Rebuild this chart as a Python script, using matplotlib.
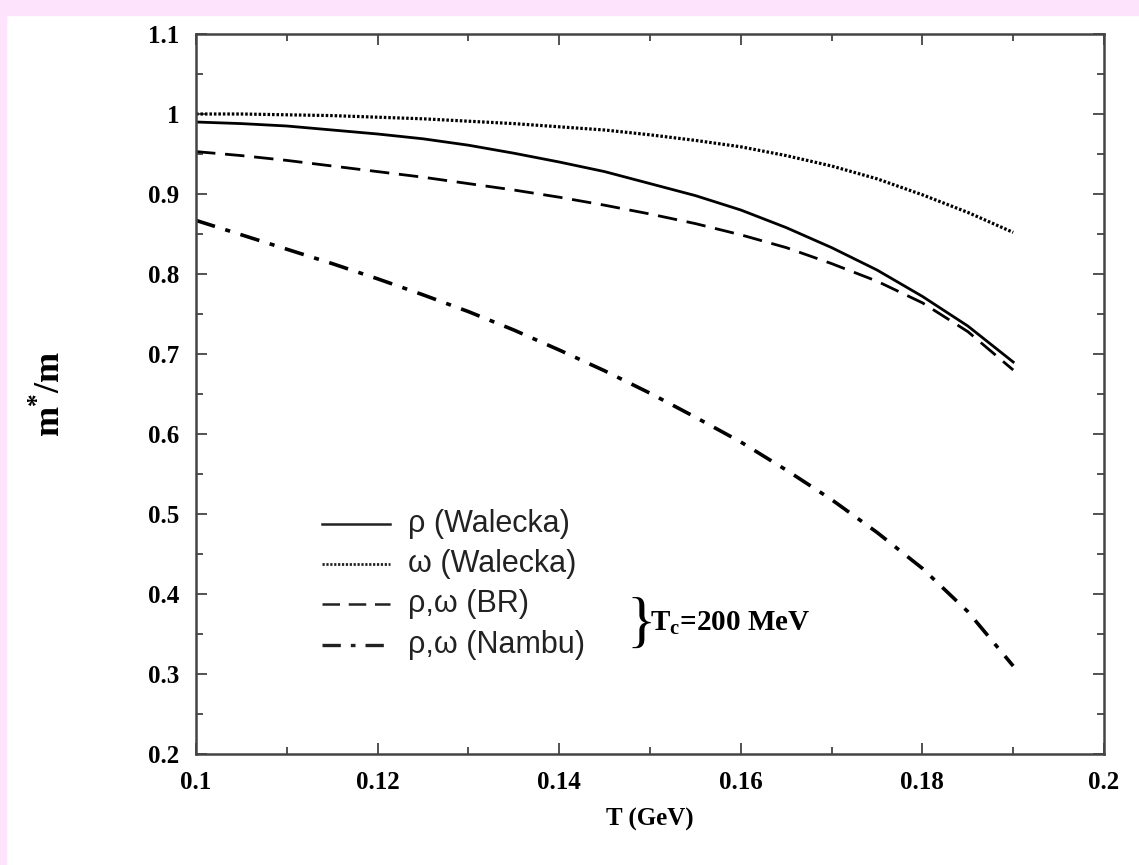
import numpy as np
import matplotlib
matplotlib.use("Agg")
import matplotlib.pyplot as plt
from matplotlib.patches import Rectangle
from matplotlib.ticker import MultipleLocator

# temperature grid (GeV) and m*/m
T = [0.100, 0.105, 0.110, 0.115, 0.120, 0.125, 0.130, 0.135, 0.140, 0.145,
     0.150, 0.155, 0.160, 0.165, 0.170, 0.175, 0.180, 0.185, 0.190]
rho_walecka = [0.990, 0.988, 0.985, 0.980, 0.975, 0.969, 0.961, 0.951, 0.940, 0.928,
               0.913, 0.898, 0.880, 0.858, 0.833, 0.805, 0.772, 0.735, 0.690]
omega_walecka = [1.000, 1.000, 0.999, 0.998, 0.996, 0.994, 0.991, 0.988, 0.984, 0.980,
                 0.974, 0.967, 0.959, 0.948, 0.935, 0.919, 0.899, 0.877, 0.852]
rho_omega_br = [0.953, 0.948, 0.942, 0.935, 0.928, 0.921, 0.913, 0.905, 0.896, 0.886,
                0.875, 0.863, 0.849, 0.833, 0.813, 0.791, 0.764, 0.728, 0.680]
rho_omega_nambu = [0.867, 0.849, 0.831, 0.813, 0.794, 0.774, 0.753, 0.730, 0.705, 0.679,
                   0.651, 0.621, 0.590, 0.555, 0.518, 0.477, 0.432, 0.378, 0.310]

labels = ["\u03c1 (Walecka)", "\u03c9 (Walecka)", "\u03c1,\u03c9 (BR)", "\u03c1,\u03c9 (Nambu)"]
xticks = [0.10, 0.12, 0.14, 0.16, 0.18, 0.20]
xticklabels = ['0.1', '0.12', '0.14', '0.16', '0.18', '0.2']
yticks = [0.2, 0.3, 0.4, 0.5, 0.6, 0.7, 0.8, 0.9, 1.0, 1.1]
yticklabels = ['0.2', '0.3', '0.4', '0.5', '0.6', '0.7', '0.8', '0.9', '1', '1.1']

plt.rcParams['font.family'] = 'Liberation Serif'
plt.rcParams['font.weight'] = 'bold'
plt.rcParams['mathtext.fontset'] = 'custom'
plt.rcParams['mathtext.rm'] = 'Liberation Serif:bold'
plt.rcParams['mathtext.bf'] = 'Liberation Serif:bold'

fig = plt.figure(figsize=(11.39, 8.65), dpi=100)
fig.patch.set_facecolor('white')
# pink frame along top and left edges
fig.patches.append(Rectangle((0, 1 - 15/865), 1, 15/865, transform=fig.transFigure,
                             color='#fde4fc', zorder=0))
fig.patches.append(Rectangle((0, 0), 6/1139, 1, transform=fig.transFigure,
                             color='#fde4fc', zorder=0))

ax = fig.add_axes([196/1139, (865-754)/865, (1104-196)/1139, (754-34)/865])

dotted = (0, (0.8, 0.6))
dashed = (0, (7, 3.5))
dashdot = (0, (5.5, 3.0, 1.4, 3.0))

ax.plot(T, rho_walecka, color='black', lw=2.0, linestyle='-')
ax.plot(T, omega_walecka, color='black', lw=2.3, linestyle=dotted)
ax.plot(T, rho_omega_br, color='black', lw=2.0, linestyle=dashed)
ax.plot(T, rho_omega_nambu, color='black', lw=2.6, linestyle=dashdot)

ax.set_xlim(0.1, 0.2)
ax.set_ylim(0.2, 1.1)
ax.set_xticks(xticks)
ax.set_xticklabels(xticklabels)
ax.set_yticks(yticks)
ax.set_yticklabels(yticklabels)
ax.xaxis.set_minor_locator(MultipleLocator(0.01))
ax.yaxis.set_minor_locator(MultipleLocator(0.05))
ax.tick_params(which='both', direction='in', top=True, right=True, color='#444444', width=1.3)
ax.tick_params(which='major', length=8, pad=12, labelsize=18)
ax.tick_params(which='minor', length=5)
for s in ax.spines.values():
    s.set_linewidth(1.8)
    s.set_color('#444444')

ax.set_xlabel('T (GeV)', fontsize=18, fontweight='bold', labelpad=10)
ax.set_ylabel(r'$\mathbf{m}^{*}\mathbf{/m}$', fontsize=26, labelpad=58)

# legend drawn by hand
styles = ['-', dotted, dashed, dashdot]
widths = [1.8, 2.0, 1.8, 2.4]
rows = [0.488, 0.438, 0.388, 0.336]
for lab, st, w, yy in zip(labels, styles, widths, rows):
    ax.plot([0.1139, 0.1214], [yy, yy], color='#222222', lw=w, linestyle=st)
    ax.text(0.1234, yy, lab, family='Liberation Sans', fontweight='normal', fontsize=22,
            va='center', color='#222222')

ax.text(0.1474, 0.360, '}', fontweight='normal', fontsize=44, va='center', ha='left')
ax.text(0.1500, 0.364, r'T$_\mathregular{c}$=200 MeV', fontsize=21, va='center', ha='left')

fig.savefig('out.png', dpi=100, facecolor=fig.get_facecolor())
